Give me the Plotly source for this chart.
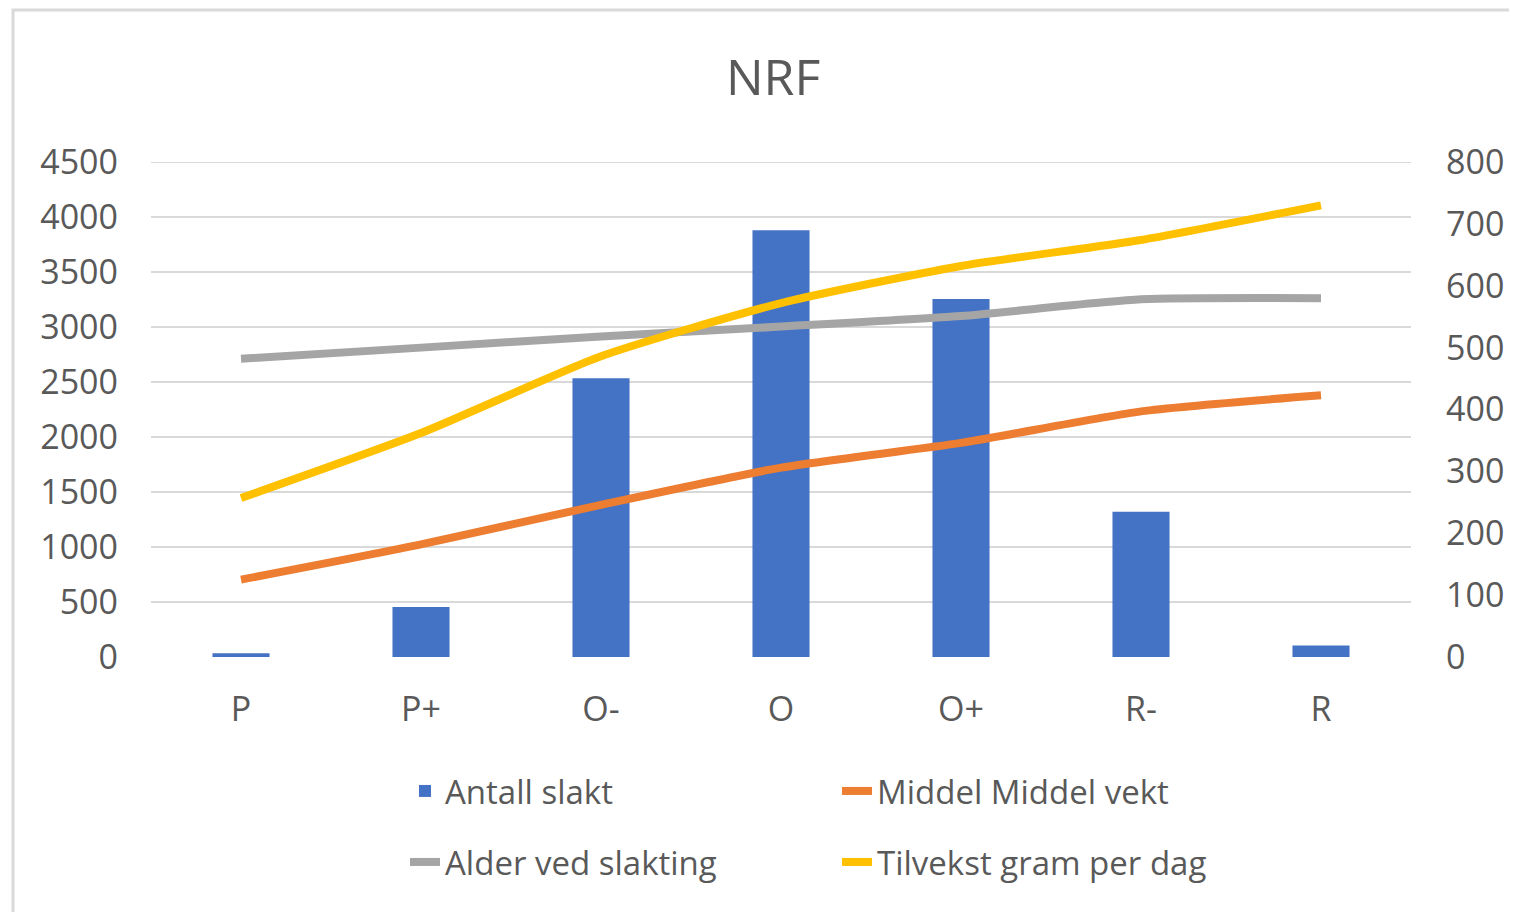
import plotly.graph_objects as go

categories = ["P", "P+", "O-", "O", "O+", "R-", "R"]
antall_slakt = [35, 455, 2535, 3880, 3255, 1320, 105]
middel_vekt = [125, 182, 246, 306, 346, 397, 423]
alder_ved_slakting = [482, 500, 518, 534, 551, 578, 580]
tilvekst_gram_per_dag = [257, 362, 486, 572, 632, 674, 730]

left_ticks = list(range(0, 4501, 500))
right_ticks = list(range(0, 801, 100))

FONT = "Open Sans"
TXT = "#595959"
GRID = "#d9d9d9"
OFF = 8  # page body margin

fig = go.Figure()
fig.add_trace(go.Bar(x=categories, y=antall_slakt, name="Antall slakt",
                     marker=dict(color="#4472C4", line=dict(width=0)),
                     legend="legend"))
fig.add_trace(go.Scatter(x=categories, y=middel_vekt, name="Middel Middel vekt",
                         mode="lines", yaxis="y2",
                         line=dict(color="#ED7D31", width=8, shape="spline", smoothing=0.6),
                         legend="legend"))
fig.add_trace(go.Scatter(x=categories, y=alder_ved_slakting, name="Alder ved slakting",
                         mode="lines", yaxis="y2",
                         line=dict(color="#A5A5A5", width=8, shape="spline", smoothing=0.6),
                         legend="legend2"))
fig.add_trace(go.Scatter(x=categories, y=tilvekst_gram_per_dag, name="Tilvekst gram per dag",
                         mode="lines", yaxis="y2",
                         line=dict(color="#FFC000", width=8, shape="spline", smoothing=0.6),
                         legend="legend2"))

legend_common = dict(orientation="h", xanchor="left", yanchor="middle",
                     entrywidth=387, font=dict(family=FONT, size=33, color=TXT),
                     bgcolor="rgba(0,0,0,0)", traceorder="normal")

W, H = 1517 - OFF, 912 - OFF
fig.update_layout(
    width=W, height=H,
    margin=dict(l=151 - OFF, r=W - (151 - OFF) - 1260, t=162 - OFF, b=H - (162 - OFF) - 495),
    paper_bgcolor="white", plot_bgcolor="white",
    font=dict(family=FONT, color=TXT),
    title=dict(text="NRF", x=0.4937, xref="paper", xanchor="center",
               y=1 - (77 - OFF) / H, yref="container", yanchor="middle",
               font=dict(family=FONT, size=50, color=TXT)),
    bargap=0.683,
    xaxis=dict(showgrid=False, zeroline=False, showline=False,
               ticks="", ticklabelstandoff=29,
               tickfont=dict(family=FONT, size=34, color=TXT)),
    yaxis=dict(range=[0, 4500], tickvals=left_ticks, showgrid=True,
               gridcolor=GRID, gridwidth=2, zeroline=False, showline=False,
               ticks="", ticklabelstandoff=32,
               tickfont=dict(family=FONT, size=34, color=TXT)),
    yaxis2=dict(range=[0, 800], tickvals=right_ticks, overlaying="y", side="right",
                showgrid=False, zeroline=False, showline=False,
                ticks="", ticklabelstandoff=34,
                tickfont=dict(family=FONT, size=34, color=TXT)),
    legend=dict(x=(405 - 151) / 1260, y=(657 - 791) / 495, **legend_common),
    legend2=dict(x=(405 - 151) / 1260, y=(657 - 862) / 495, **legend_common),
    showlegend=True,
    shapes=[
        dict(type="rect", xref="paper", yref="paper",
             x0=(13 - 151) / 1260, x1=1.3, y0=-0.7, y1=(657 - 10) / 495,
             line=dict(color=GRID, width=3), fillcolor="rgba(0,0,0,0)",
             layer="below"),
        # top gridline (plotly omits the gridline that sits on the plot edge)
        dict(type="line", xref="paper", yref="y", x0=0, x1=1,
             y0=left_ticks[-1], y1=left_ticks[-1],
             line=dict(color=GRID, width=2), layer="below"),
    ],
)

fig.write_html("out.html")
